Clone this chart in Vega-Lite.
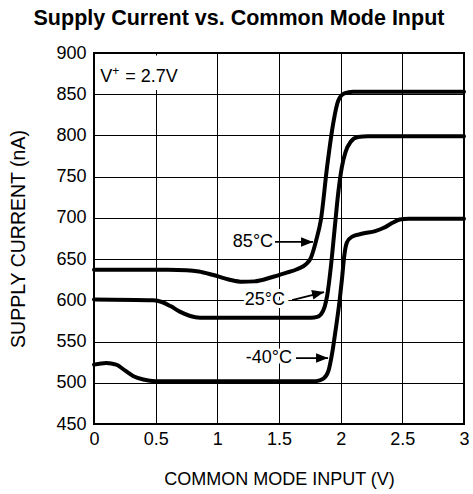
{
  "$schema": "https://vega.github.io/schema/vega-lite/v6.json",
  "width": 370,
  "height": 371,
  "autosize": {"type": "none"},
  "padding": {"left": 94, "top": 53, "right": 9, "bottom": 70},
  "background": "white",
  "config": {
    "font": "Liberation Sans",
    "view": {"stroke": "black", "strokeWidth": 2},
    "axis": {
      "grid": true, "gridColor": "black", "gridOpacity": 1, "gridWidth": 1,
      "domain": false, "ticks": false,
      "labelColor": "black", "titleColor": "black",
      "labelFontSize": 18, "titleFontSize": 18, "titleFontWeight": "normal",
      "labelFont": "Liberation Sans", "titleFont": "Liberation Sans"
    }
  },
  "title": {
    "text": "Supply Current vs. Common Mode Input",
    "fontSize": 21.5, "fontWeight": "bold", "color": "black",
    "font": "Liberation Sans", "anchor": "middle", "frame": "bounds", "dy": -11
  },
  "datasets": {
    "curves": [
      {"series": "85", "v": 0, "i": 637}, {"series": "85", "v": 0.6, "i": 637}, {"series": "85", "v": 0.75, "i": 636.5},
      {"series": "85", "v": 0.85, "i": 635}, {"series": "85", "v": 0.96, "i": 631}, {"series": "85", "v": 1.1, "i": 625},
      {"series": "85", "v": 1.2, "i": 622.5}, {"series": "85", "v": 1.3, "i": 623}, {"series": "85", "v": 1.44, "i": 628},
      {"series": "85", "v": 1.55, "i": 633}, {"series": "85", "v": 1.65, "i": 638}, {"series": "85", "v": 1.72, "i": 644},
      {"series": "85", "v": 1.76, "i": 652}, {"series": "85", "v": 1.78, "i": 661}, {"series": "85", "v": 1.8, "i": 672},
      {"series": "85", "v": 1.84, "i": 698}, {"series": "85", "v": 1.89, "i": 762}, {"series": "85", "v": 1.94, "i": 815},
      {"series": "85", "v": 1.98, "i": 842}, {"series": "85", "v": 2.03, "i": 851}, {"series": "85", "v": 2.1, "i": 853},
      {"series": "85", "v": 3, "i": 853},
      {"series": "25", "v": 0, "i": 601}, {"series": "25", "v": 0.48, "i": 600}, {"series": "25", "v": 0.55, "i": 598},
      {"series": "25", "v": 0.62, "i": 593}, {"series": "25", "v": 0.7, "i": 586}, {"series": "25", "v": 0.78, "i": 581},
      {"series": "25", "v": 0.86, "i": 579}, {"series": "25", "v": 1.76, "i": 579}, {"series": "25", "v": 1.81, "i": 580},
      {"series": "25", "v": 1.84, "i": 583}, {"series": "25", "v": 1.87, "i": 592}, {"series": "25", "v": 1.89, "i": 605},
      {"series": "25", "v": 1.92, "i": 640}, {"series": "25", "v": 1.95, "i": 685}, {"series": "25", "v": 1.98, "i": 730},
      {"series": "25", "v": 2.01, "i": 762}, {"series": "25", "v": 2.04, "i": 780}, {"series": "25", "v": 2.08, "i": 792},
      {"series": "25", "v": 2.14, "i": 798}, {"series": "25", "v": 2.22, "i": 799}, {"series": "25", "v": 3, "i": 799},
      {"series": "-40", "v": 0, "i": 522}, {"series": "-40", "v": 0.1, "i": 524}, {"series": "-40", "v": 0.18, "i": 522},
      {"series": "-40", "v": 0.25, "i": 515}, {"series": "-40", "v": 0.32, "i": 508}, {"series": "-40", "v": 0.4, "i": 504},
      {"series": "-40", "v": 0.5, "i": 502}, {"series": "-40", "v": 1.8, "i": 502}, {"series": "-40", "v": 1.86, "i": 505},
      {"series": "-40", "v": 1.9, "i": 514}, {"series": "-40", "v": 1.93, "i": 535}, {"series": "-40", "v": 1.96, "i": 565},
      {"series": "-40", "v": 1.99, "i": 598}, {"series": "-40", "v": 2.01, "i": 625}, {"series": "-40", "v": 2.03, "i": 655},
      {"series": "-40", "v": 2.05, "i": 670}, {"series": "-40", "v": 2.09, "i": 677}, {"series": "-40", "v": 2.18, "i": 681},
      {"series": "-40", "v": 2.28, "i": 684}, {"series": "-40", "v": 2.35, "i": 688}, {"series": "-40", "v": 2.42, "i": 694},
      {"series": "-40", "v": 2.48, "i": 698}, {"series": "-40", "v": 2.55, "i": 699}, {"series": "-40", "v": 3, "i": 699}
    ],
    "box": [{"x": 0.01, "x2": 0.72, "y": 855, "y2": 897}],
    "note": [{"label": "V", "x": 0.05, "y": 865}],
    "sup": [{"label": "+", "x": 0.05, "y": 865}],
    "rest": [{"label": "= 2.7V", "x": 0.05, "y": 865}],
    "labels": [
      {"label": "85°C", "x": 1.452, "y": 671},
      {"label": "25°C", "x": 1.549, "y": 600.4},
      {"label": "-40°C", "x": 1.606, "y": 530}
    ],
    "arrows": [
      {"name": "85", "x": 1.468, "y": 670.8, "x2": 1.776, "y2": 670.8},
      {"name": "25", "x": 1.606, "y": 600.4, "x2": 1.865, "y2": 610.1},
      {"name": "-40", "x": 1.638, "y": 530, "x2": 1.898, "y2": 530}
    ]
  },
  "layer": [
    {
      "data": {"name": "curves"},
      "mark": {"type": "line", "color": "black", "strokeWidth": 4, "interpolate": "monotone", "strokeCap": "round", "strokeJoin": "round"},
      "encoding": {
        "x": {"field": "v", "type": "quantitative",
              "scale": {"domain": [0, 3], "nice": false, "zero": false},
              "axis": {"values": [0, 0.5, 1, 1.5, 2, 2.5, 3], "format": "~g", "labelFlush": false,
                       "labelPadding": 6, "title": "COMMON MODE INPUT (V)", "titlePadding": 22}},
        "y": {"field": "i", "type": "quantitative",
              "scale": {"domain": [450, 900], "nice": false, "zero": false},
              "axis": {"values": [450, 500, 550, 600, 650, 700, 750, 800, 850, 900], "labelPadding": 8,
                       "title": "SUPPLY CURRENT (nA)", "titleFontSize": 19.5, "titlePadding": 27}},
        "detail": {"field": "series"}
      }
    },
    {
      "data": {"name": "box"},
      "mark": {"type": "rect", "color": "white", "opacity": 1},
      "encoding": {
        "x": {"field": "x", "type": "quantitative"}, "x2": {"field": "x2"},
        "y": {"field": "y", "type": "quantitative"}, "y2": {"field": "y2"}
      }
    },
    {
      "data": {"name": "note"},
      "mark": {"type": "text", "align": "left", "baseline": "alphabetic", "fontSize": 18, "color": "black", "font": "Liberation Sans"},
      "encoding": {
        "x": {"field": "x", "type": "quantitative"},
        "y": {"field": "y", "type": "quantitative"},
        "text": {"field": "label"}
      }
    },
    {
      "data": {"name": "sup"},
      "mark": {"type": "text", "align": "left", "baseline": "alphabetic", "fontSize": 12, "color": "black", "font": "Liberation Sans", "dx": 12, "dy": -7},
      "encoding": {
        "x": {"field": "x", "type": "quantitative"},
        "y": {"field": "y", "type": "quantitative"},
        "text": {"field": "label"}
      }
    },
    {
      "data": {"name": "rest"},
      "mark": {"type": "text", "align": "left", "baseline": "alphabetic", "fontSize": 18, "color": "black", "font": "Liberation Sans", "dx": 25},
      "encoding": {
        "x": {"field": "x", "type": "quantitative"},
        "y": {"field": "y", "type": "quantitative"},
        "text": {"field": "label"}
      }
    },
    {
      "data": {"name": "labels"},
      "mark": {"type": "text", "align": "right", "baseline": "middle", "fontSize": 18, "fill": "white", "stroke": "white", "strokeWidth": 6, "font": "Liberation Sans"},
      "encoding": {
        "x": {"field": "x", "type": "quantitative"},
        "y": {"field": "y", "type": "quantitative"},
        "text": {"field": "label"}
      }
    },
    {
      "data": {"name": "labels"},
      "mark": {"type": "text", "align": "right", "baseline": "middle", "fontSize": 18, "color": "black", "font": "Liberation Sans"},
      "encoding": {
        "x": {"field": "x", "type": "quantitative"},
        "y": {"field": "y", "type": "quantitative"},
        "text": {"field": "label"}
      }
    },
    {
      "data": {"name": "arrows"},
      "mark": {"type": "rule", "color": "black", "strokeWidth": 1.8},
      "encoding": {
        "x": {"field": "x", "type": "quantitative"}, "x2": {"field": "x2"},
        "y": {"field": "y", "type": "quantitative"}, "y2": {"field": "y2"}
      }
    },
    {
      "data": {"name": "arrows"},
      "transform": [{"filter": "datum.name != '25'"}],
      "mark": {"type": "point", "shape": "M0,0L-2,-0.8L-2,0.8Z", "size": 144, "filled": true, "color": "black", "opacity": 1, "strokeWidth": 0},
      "encoding": {
        "x": {"field": "x2", "type": "quantitative"},
        "y": {"field": "y2", "type": "quantitative"}
      }
    },
    {
      "data": {"name": "arrows"},
      "transform": [{"filter": "datum.name == '25'"}],
      "mark": {"type": "point", "shape": "M0,0L-2,-0.8L-2,0.8Z", "size": 144, "filled": true, "color": "black", "opacity": 1, "strokeWidth": 0, "angle": -13},
      "encoding": {
        "x": {"field": "x2", "type": "quantitative"},
        "y": {"field": "y2", "type": "quantitative"}
      }
    }
  ]
}
